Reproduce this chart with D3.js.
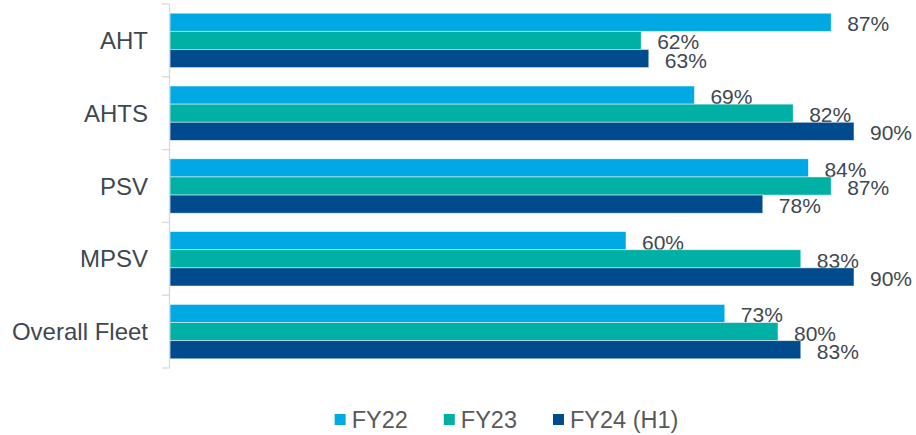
<!DOCTYPE html>
<html>
<head>
<meta charset="utf-8">
<script src="https://cdn.jsdelivr.net/npm/d3@7"></script>
<style>
  html, body { margin: 0; padding: 0; background: #fff; }
  svg { display: block; font-family: "Liberation Sans", Arial, sans-serif; }
</style>
</head>
<body>
<svg id="chart" width="916" height="435"></svg>
<script>
const categories = ["AHT", "AHTS", "PSV", "MPSV", "Overall Fleet"];
const seriesNames = ["FY22", "FY23", "FY24 (H1)"];
const fy22 = [0.87, 0.69, 0.84, 0.60, 0.73];
const fy23 = [0.62, 0.82, 0.87, 0.83, 0.80];
const fy24 = [0.63, 0.90, 0.78, 0.90, 0.83];
const seriesValues = [fy22, fy23, fy24];
const colors = ["#00A9E3", "#00B0A5", "#004B8D"];

const svg = d3.select("#chart");
const plotLeft = 170, plotTop = 4, plotBottom = 368;

const y = d3.scaleBand().domain(categories).range([plotTop, plotBottom])
  .paddingInner(0.253).paddingOuter(0.1265);
const ySub = d3.scaleBand().domain(seriesNames).range([0, y.bandwidth()]);
const x = d3.scaleLinear().domain([0, 1]).range([plotLeft, plotLeft + 760]);

const fmt = d3.format(".0%");

// bars
categories.forEach((cat, ci) => {
  const g = svg.append("g").attr("transform", `translate(0,${y(cat)})`);
  seriesNames.forEach((s, si) => {
    const v = seriesValues[si][ci];
    g.append("rect")
      .attr("x", x(0))
      .attr("y", ySub(s))
      .attr("width", x(v) - x(0))
      .attr("height", ySub.bandwidth())
      .attr("fill", colors[si])
      .attr("stroke", "#ffffff")
      .attr("stroke-opacity", 0.6)
      .attr("stroke-width", 0.8);
    g.append("text")
      .attr("x", x(v) + 16)
      .attr("y", ySub(s) + ySub.bandwidth() / 2 + 1.5)
      .attr("dominant-baseline", "central")
      .attr("font-size", 21)
      .attr("fill", "#3E4852")
      .text(fmt(v));
  });
});

// axis line with ticks at band boundaries
const step = y.step();
const axisG = svg.append("g");
axisG.append("line")
  .attr("x1", plotLeft - 0.5).attr("x2", plotLeft - 0.5)
  .attr("y1", plotTop).attr("y2", plotBottom)
  .attr("stroke", "#D9D9D9").attr("stroke-width", 1.3);
const boundaries = d3.range(categories.length + 1).map(i => plotTop + i * step);
axisG.selectAll("line.tick").data(boundaries).join("line")
  .attr("class", "tick")
  .attr("x1", plotLeft - 8).attr("x2", plotLeft - 0.5)
  .attr("y1", d => d).attr("y2", d => d)
  .attr("stroke", "#D9D9D9").attr("stroke-width", 1.3);

// category labels
svg.append("g").selectAll("text").data(categories).join("text")
  .attr("x", 148)
  .attr("y", d => y(d) + y.bandwidth() / 2)
  .attr("dominant-baseline", "central")
  .attr("text-anchor", "end")
  .attr("font-size", 24)
  .attr("fill", "#3E4852")
  .text(d => d);

// legend
const legend = svg.append("g");
let cx = 0;
seriesNames.forEach((s, i) => {
  const item = legend.append("g");
  item.append("rect").attr("x", 0).attr("y", -6).attr("width", 11).attr("height", 11).attr("fill", colors[i]);
  const t = item.append("text").attr("x", 17).attr("y", 0)
    .attr("dominant-baseline", "central").attr("font-size", 23.5).attr("fill", "#595959").text(s);
  const w = 17 + t.node().getComputedTextLength();
  item.attr("transform", `translate(${cx},0)`);
  cx += w + 36;
});
const totalW = cx - 36;
legend.attr("transform", `translate(${(336 + 677) / 2 - totalW / 2},420)`);
</script>
</body>
</html>
